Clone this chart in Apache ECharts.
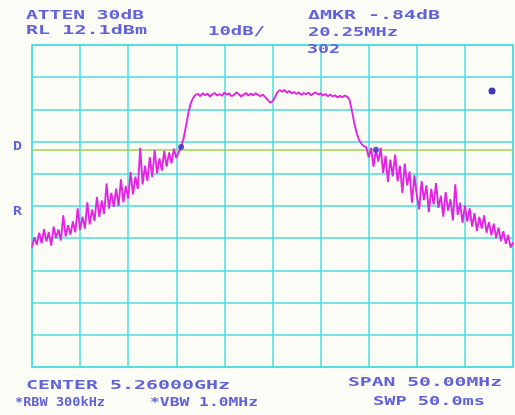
<!DOCTYPE html>
<html>
<head>
<meta charset="utf-8">
<script src="https://cdn.jsdelivr.net/npm/echarts@6/dist/echarts.min.js"></script>
<style>
  html, body { margin: 0; padding: 0; background: #fcfcf7; }
  #chart { width: 515px; height: 415px; }
</style>
</head>
<body>
<div id="chart"></div>
<script>
// Sweep: 5.235 GHz to 5.285 GHz, one trace point every 0.25 MHz
const startMHz = 5235;
const stopMHz = 5285;
const stepMHz = 0.25;

// Reference level and scale (dBm, 10 dB/div)
const refLevel = 12.1;
const dbPerDiv = 10;
const displayLine = -20.5;

// Trace amplitudes in dBm
const leftSkirt = [
  -50.8, -47.6, -49.9, -46.2, -49.5, -45.1, -48.9, -46.0, -50.2, -44.3,
  -47.8, -45.2, -48.6, -40.8, -47.3, -43.9, -46.8, -42.7, -46.1, -38.6,
  -45.4, -41.2, -44.9, -36.8, -43.6, -39.0, -42.5, -35.1, -41.3, -36.2,
  -40.4, -30.9, -38.7, -33.8, -38.2, -32.5, -37.9, -29.6, -36.8, -31.7,
  -35.6, -27.4, -34.3, -28.8, -32.6, -19.8, -31.2, -25.4, -30.1, -22.7,
  -28.9, -20.5, -27.8, -23.1, -26.9, -20.8, -25.7, -21.3, -24.6, -20.1,
  -23.0, -21.2
];
const passband = [
  -19.6, -17.0, -13.2, -9.1, -6.0, -4.3, -3.4,
  -3.1, -3.8, -2.9, -3.5, -3.0, -3.9, -3.2, -2.8, -3.6, -3.1,
  -3.7, -2.7, -3.3, -2.9, -3.8, -3.4, -2.6, -3.2, -3.9, -3.3,
  -2.8, -3.6, -3.0, -3.5, -2.9, -3.4, -3.8, -3.3, -4.1, -4.9,
  -5.8, -5.4, -4.2, -2.6, -1.9, -2.4, -1.8, -2.7, -2.2, -2.9,
  -2.5, -3.1, -2.6, -3.4, -2.8, -3.2, -2.7, -3.5, -3.0, -2.6,
  -3.3, -2.9, -3.6, -3.1, -3.8, -3.3, -3.9, -3.5, -4.2, -3.7,
  -4.1, -3.6, -3.9, -4.8, -8.2, -12.1, -15.3, -17.4, -18.6, -19.3
];
const rightSkirt = [
  -19.6, -22.8, -19.9, -25.7, -20.44, -24.1, -19.8, -27.6, -22.3, -30.4,
  -23.5, -28.7, -21.9, -30.2, -25.4, -33.8, -24.7, -31.5, -27.2, -36.9,
  -28.4, -34.6, -38.9, -30.2, -36.1, -31.5, -39.8, -32.6, -37.4, -30.8,
  -38.5, -34.7, -41.2, -33.6, -39.3, -35.8, -42.4, -31.2, -40.6, -36.9,
  -43.1, -37.8, -42.7, -38.6, -44.3, -40.1, -45.6, -41.3, -44.9, -40.8,
  -46.2, -42.9, -47.0, -43.4, -47.9, -44.6, -48.8, -45.7, -49.6, -46.9,
  -50.8, -49.2
];

// Marker and delta marker positions (trace point index)
const markerIndex = [62, 143];

// Screen annotations
const headerTexts = [
  ['ATTEN 30dB', 26, 15.5, 118],
  ['RL 12.1dBm', 26, 30.5, 121],
  ['10dB/', 208, 32, 57],
  ['\u0394MKR -.84dB', 308, 16, 132],
  ['20.25MHz', 308, 33, 90],
  ['302', 307, 50, 33],
  ['D', 13, 147, 9],
  ['R', 13, 212, 9]
];
const footerTexts = [
  ['CENTER 5.26000GHz', 26, 385.5, 204],
  ['SPAN 50.00MHz', 348, 383, 154],
  ['*RBW 300kHz', 15, 403, 90],
  ['*VBW 1.0MHz', 150, 403, 108],
  ['SWP 50.0ms', 373, 402, 112]
];

const amplitudes = leftSkirt.concat(passband, rightSkirt);
const trace = amplitudes.map((v, i) => [startMHz + i * stepMHz, v]);
const markers = markerIndex.map(i => trace[i]);

const TEXT_COLOR = '#6262dc';
const FONT_SIZE = 13;
const ADVANCE = FONT_SIZE * 0.602;

function screenText([text, x, y, width]) {
  return {
    type: 'text',
    x: x,
    y: y,
    z: 100,
    scaleX: width / (text.length * ADVANCE),
    style: {
      text: text,
      fill: TEXT_COLOR,
      font: 'bold ' + FONT_SIZE + 'px "DejaVu Sans Mono"',
      verticalAlign: 'middle',
      align: 'left'
    }
  };
}

const chart = echarts.init(document.getElementById('chart'), null, { renderer: 'canvas' });

const gridColor = '#4adcdc';

chart.setOption({
  backgroundColor: '#fcfcf7',
  animation: false,
  grid: {
    left: 32, right: 2, top: 45, bottom: 48,
    show: true,
    borderColor: gridColor,
    borderWidth: 1.5
  },
  xAxis: {
    type: 'value',
    min: startMHz,
    max: stopMHz,
    interval: 5,
    axisLine: { show: false },
    axisTick: { show: false },
    axisLabel: { show: false },
    splitLine: { show: true, lineStyle: { color: gridColor, width: 1.5 } }
  },
  yAxis: {
    type: 'value',
    min: refLevel - 10 * dbPerDiv,
    max: refLevel,
    interval: dbPerDiv,
    axisLine: { show: false },
    axisTick: { show: false },
    axisLabel: { show: false },
    splitLine: { show: true, lineStyle: { color: gridColor, width: 1.5 } }
  },
  series: [
    {
      type: 'line',
      data: trace,
      symbol: 'none',
      lineStyle: { color: '#e324e3', width: 1.9 },
      z: 5,
      markLine: {
        silent: true,
        symbol: 'none',
        label: { show: false },
        lineStyle: { color: '#9fd24a', width: 1.5, type: 'solid' },
        data: [{ yAxis: displayLine }]
      }
    },
    {
      type: 'scatter',
      data: markers,
      symbol: 'circle',
      symbolSize: 6,
      itemStyle: { color: '#3b30c2' },
      z: 6
    }
  ],
  graphic: headerTexts.concat(footerTexts).map(screenText).concat([
    {
      type: 'circle',
      shape: { cx: 492, cy: 91, r: 3.5 },
      style: { fill: '#3a3ab8' },
      z: 100
    }
  ])
});
</script>
</body>
</html>
